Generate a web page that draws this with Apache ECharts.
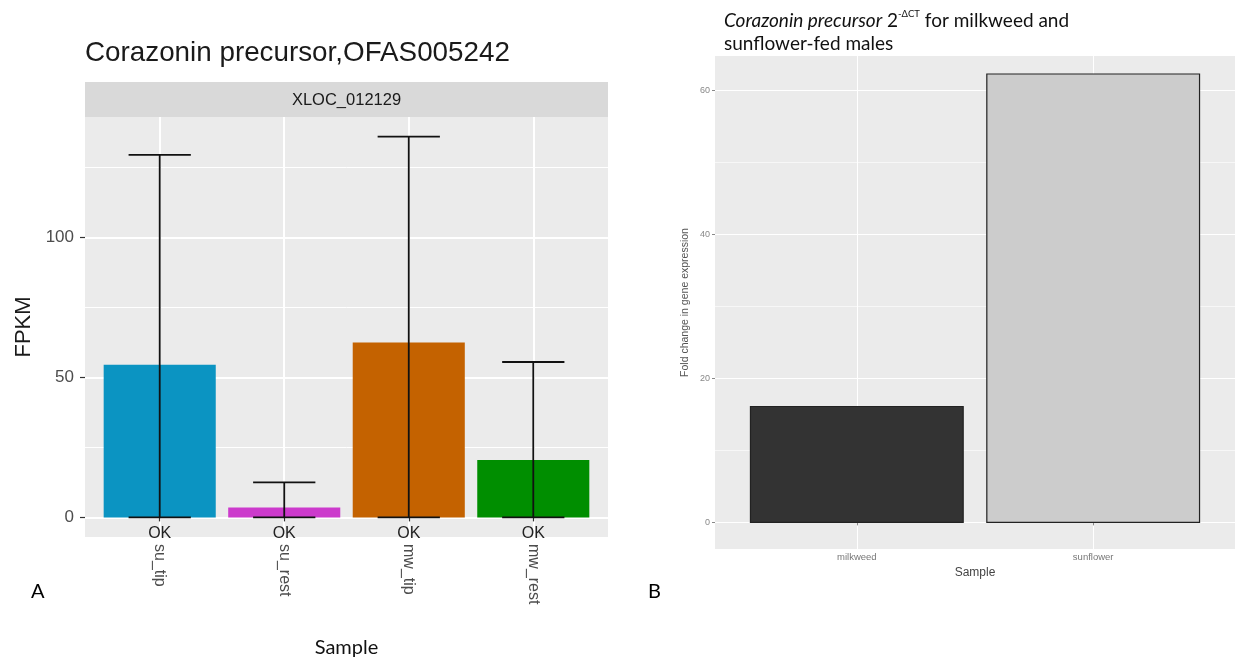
<!DOCTYPE html>
<html><head><meta charset="utf-8">
<script src="https://cdn.jsdelivr.net/npm/echarts@6/dist/echarts.min.js"></script>
<style>html,body{margin:0;padding:0;background:#fff}#c{width:1235px;height:663px}</style>
</head><body><div id="c"></div>
<script>
// ---- data ----
const leftCategories = ['su_tip', 'su_rest', 'mw_tip', 'mw_rest'];
const fpkmValues = [54.5, 3.5, 62.5, 20.5];
const fpkmLow = [0, 0, 0, 0];
const fpkmHigh = [129.5, 12.5, 136, 55.5];
const statusLabels = ['OK', 'OK', 'OK', 'OK'];
const leftYTicks = [0, 50, 100];
const leftYMinor = [25, 75, 125];
const leftXTicks = [1, 2, 3, 4];

const rightCategories = ['milkweed', 'sunflower'];
const foldChange = [16.1, 62.3];
const rightYTicks = [0, 20, 40, 60];
const rightYMinor = [10, 30, 50];
const rightXTicks = [1, 2];

// ---- styles ----
const leftColors = ['#0B94C2', '#CC3ACC', '#C46200', '#008E00'];
const rightColors = ['#333333', '#CCCCCC'];
const SANS = 'Liberation Sans';
const CAL = 'Lato';

function barRender(colors, w, stroke, lw) {
  return function (params, api) {
    const x = api.value(0), y = api.value(1);
    const p0 = api.coord([x - w / 2, 0]);
    const p1 = api.coord([x + w / 2, y]);
    return {
      type: 'rect',
      shape: { x: p0[0], y: p1[1], width: p1[0] - p0[0], height: p0[1] - p1[1] },
      style: { fill: colors[params.dataIndex], stroke: stroke, lineWidth: lw }
    };
  };
}
function errRender(params, api) {
  const x = api.value(0), lo = api.value(2), hi = api.value(3);
  const cw = 0.25;
  const a = api.coord([x, lo]), b = api.coord([x, hi]);
  const l = api.coord([x - cw, lo])[0], r = api.coord([x + cw, lo])[0];
  const st = { stroke: '#111', lineWidth: 1.8 };
  return {
    type: 'group',
    children: [
      { type: 'line', shape: { x1: a[0], y1: a[1], x2: b[0], y2: b[1] }, style: st },
      { type: 'line', shape: { x1: l, y1: a[1], x2: r, y2: a[1] }, style: st },
      { type: 'line', shape: { x1: l, y1: b[1], x2: r, y2: b[1] }, style: st }
    ]
  };
}
function okRender(params, api) {
  const p = api.coord([api.value(0), api.value(1)]);
  return {
    type: 'text',
    x: p[0], y: p[1] + 8,
    style: { text: statusLabels[params.dataIndex], align: 'center', verticalAlign: 'top',
             fontSize: 16, fontFamily: SANS, fill: '#222' }
  };
}

const chart = echarts.init(document.getElementById('c'));
const option = {
  animation: false,
  backgroundColor: '#fff',
  title: [
    { text: 'Corazonin precursor,OFAS005242', left: 85, top: 39, padding: 0,
      textStyle: { fontFamily: SANS, fontSize: 27.8, fontWeight: 'normal', color: '#1a1a1a' } },
    { text: '{i|Corazonin precursor}{n| 2}{s|-ΔCT}{n| for milkweed and}\n{n|sunflower-fed males}',
      left: 724, top: 9, padding: 0,
      textStyle: { fontWeight: 'normal', rich: {
        i: { fontStyle: 'italic', fontWeight: 'normal', fontSize: 19, fontFamily: CAL, color: '#111', lineHeight: 23 },
        n: { fontWeight: 'normal', fontSize: 19, fontFamily: CAL, color: '#111', lineHeight: 23 },
        s: { fontWeight: 'normal', fontSize: 9.5, fontFamily: CAL, color: '#111', lineHeight: 12, verticalAlign: 'top' }
      } } },
    { text: 'A', left: 31, top: 582, padding: 0,
      textStyle: { fontFamily: CAL, fontSize: 20, fontWeight: 'normal', color: '#000' } },
    { text: 'B', left: 648, top: 582, padding: 0,
      textStyle: { fontFamily: CAL, fontSize: 20, fontWeight: 'normal', color: '#000' } }
  ],
  graphic: [
    { type: 'rect', left: 85, top: 82, z: 1, shape: { width: 523, height: 35 }, style: { fill: '#D9D9D9' } },
    { type: 'text', x: 346.5, y: 100, z: 2,
      style: { text: 'XLOC_012129', align: 'center', verticalAlign: 'middle', fontSize: 16.5, fontFamily: SANS, fill: '#1a1a1a' } }
  ],
  grid: [
    { left: 85, top: 117, width: 523, height: 420, show: true, backgroundColor: '#EBEBEB', borderWidth: 0 },
    { left: 715, top: 56, right: 0, height: 493, show: true, backgroundColor: '#EBEBEB', borderWidth: 0 }
  ],
  xAxis: [
    { gridIndex: 0, type: 'value', min: 0.4, max: 4.6,
      axisLine: { show: false },
      axisTick: { show: true, customValues: leftXTicks, length: 4, lineStyle: { color: '#333', width: 1.2 } },
      axisLabel: { customValues: leftXTicks, formatter: v => leftCategories[Math.round(v) - 1],
                   rotate: -90, fontSize: 16, fontFamily: SANS, color: '#4D4D4D', margin: 7 },
      splitLine: { show: true, lineStyle: { color: '#fff', width: 2 } },
      name: 'Sample', nameLocation: 'middle', nameGap: 101,
      nameTextStyle: { fontFamily: CAL, fontSize: 20, color: '#111' } },
    { gridIndex: 1, type: 'value', min: 0.4, max: 2.6,
      axisLine: { show: false },
      axisTick: { show: true, customValues: rightXTicks, length: 3, lineStyle: { color: '#888', width: 1 } },
      axisLabel: { customValues: rightXTicks, formatter: v => rightCategories[Math.round(v) - 1],
                   fontSize: 9.5, fontFamily: SANS, color: '#777', margin: 3 },
      splitLine: { show: true, lineStyle: { color: '#fff', width: 1 } },
      name: 'Sample', nameLocation: 'middle', nameGap: 16,
      nameTextStyle: { fontFamily: SANS, fontSize: 12, color: '#444' } }
  ],
  yAxis: [
    { gridIndex: 0, type: 'value', min: -7, max: 143,
      axisLine: { show: false },
      axisTick: { show: true, customValues: leftYTicks, length: 5, lineStyle: { color: '#333', width: 1.2 } },
      axisLabel: { customValues: leftYTicks, fontSize: 17, fontFamily: SANS, color: '#4D4D4D', margin: 11 },
      splitLine: { show: true, lineStyle: { color: '#fff', width: 2 } },
      name: 'FPKM', nameLocation: 'middle', nameRotate: 90, nameGap: 50,
      nameTextStyle: { fontFamily: SANS, fontSize: 22, color: '#1a1a1a' } },
    { gridIndex: 0, type: 'value', min: -7, max: 143,
      axisLine: { show: false }, axisLabel: { show: false },
      axisTick: { show: false, customValues: leftYMinor },
      splitLine: { show: true, lineStyle: { color: '#fff', width: 1 } } },
    { gridIndex: 1, type: 'value', min: -3.7, max: 64.8,
      axisLine: { show: false },
      axisTick: { show: true, customValues: rightYTicks, length: 3, lineStyle: { color: '#888', width: 1 } },
      axisLabel: { customValues: rightYTicks, fontSize: 9, fontFamily: SANS, color: '#888', margin: 5 },
      splitLine: { show: true, lineStyle: { color: '#fff', width: 1 } },
      name: 'Fold change in gene expression', nameLocation: 'middle', nameRotate: 90, nameGap: 24,
      nameTextStyle: { fontFamily: SANS, fontSize: 10.5, color: '#555' } },
    { gridIndex: 1, type: 'value', min: -3.7, max: 64.8,
      axisLine: { show: false }, axisLabel: { show: false },
      axisTick: { show: false, customValues: rightYMinor },
      splitLine: { show: true, lineStyle: { color: '#fff', width: 0.6 } } }
  ],
  series: [
    { type: 'custom', xAxisIndex: 0, yAxisIndex: 0, z: 3,
      renderItem: barRender(leftColors, 0.9, null, 0),
      data: fpkmValues.map((v, i) => [leftXTicks[i], v]) },
    { type: 'custom', xAxisIndex: 0, yAxisIndex: 0, z: 4,
      renderItem: errRender,
      data: fpkmValues.map((v, i) => [leftXTicks[i], v, fpkmLow[i], fpkmHigh[i]]) },
    { type: 'custom', xAxisIndex: 0, yAxisIndex: 0, z: 5,
      renderItem: okRender,
      data: statusLabels.map((s, i) => [leftXTicks[i], 0]) },
    { type: 'custom', xAxisIndex: 1, yAxisIndex: 2, z: 3,
      renderItem: barRender(rightColors, 0.9, '#222', 1.2),
      data: foldChange.map((v, i) => [rightXTicks[i], v]) }
  ]
};
chart.setOption(option);
</script></body></html>
